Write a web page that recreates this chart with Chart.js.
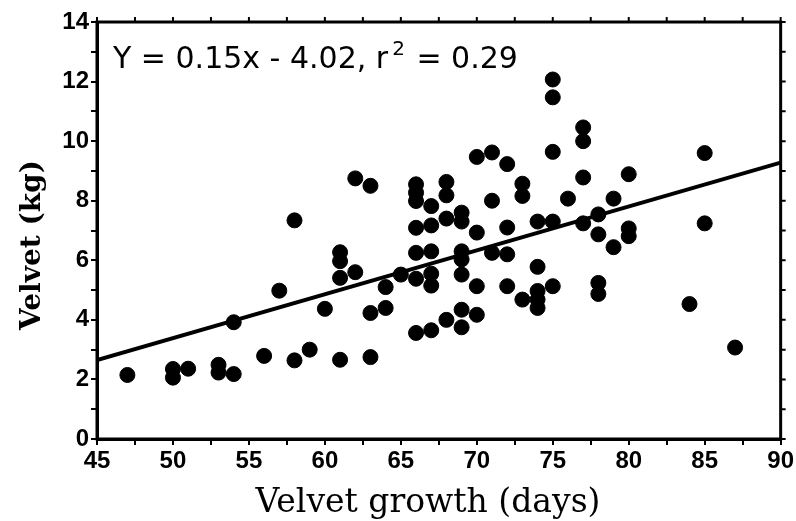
<!DOCTYPE html>
<html>
<head>
<meta charset="utf-8">
<script src="https://cdn.jsdelivr.net/npm/chart.js@4.4.0/dist/chart.umd.min.js"></script>
<style>
  html, body { margin: 0; padding: 0; background: #fff; }
  #wrap { width: 796px; height: 521px; }
</style>
</head>
<body>
<div id="wrap"><canvas id="scatter"></canvas></div>
<script>
// days of velvet growth and velvet weight (kg)
var days = [47, 50, 50, 51, 53, 53, 54, 54, 56, 57, 58, 58, 59, 60,
    61, 61, 61, 61, 62, 62, 63, 63, 63, 64, 64, 65,
    66, 66, 66, 66, 66, 66, 66, 67, 67, 67, 67, 67, 67,
    68, 68, 68, 68, 69, 69, 69, 69, 69, 69, 69,
    70, 70, 70, 70, 71, 71, 71, 72, 72, 72, 72, 73, 73, 73,
    74, 74, 74, 74, 74, 75, 75, 75, 75, 75, 76,
    77, 77, 77, 77, 78, 78, 78, 78, 79, 79, 80, 80, 80, 84, 85, 85, 87];
var velvet = [2.15, 2.35, 2.06, 2.36, 2.49, 2.23, 2.18, 3.92, 2.79, 4.98, 2.64, 7.34, 3.0, 4.37,
    2.66, 5.41, 5.97, 6.27, 8.75, 5.6, 8.5, 4.23, 2.75, 5.1, 4.4, 5.52,
    8.55, 8.27, 7.99, 7.09, 6.25, 5.38, 3.56, 7.82, 7.17, 6.3, 5.55, 5.15, 3.65,
    8.63, 8.18, 7.4, 4.0, 7.6, 7.3, 6.3, 6.03, 5.52, 4.34, 3.75,
    9.47, 6.93, 5.13, 4.17, 9.62, 8.0, 6.25, 9.23, 7.1, 6.2, 5.13, 8.57, 8.16, 4.68,
    7.3, 5.78, 4.97, 4.68, 4.4, 12.07, 11.47, 9.64, 7.3, 5.13, 8.07,
    10.46, 10.0, 8.78, 7.24, 7.54, 6.87, 5.24, 4.87, 8.07, 6.44, 8.89, 7.07, 6.81, 4.53, 9.6, 7.24, 3.07];

// fitted line ends as drawn
var fitX = [45, 90];
var fitY = [2.65, 9.28];

var eqMain = 'Y = 0.15x - 4.02, r';
var eqSup = '2';
var eqTail = ' = 0.29';
var xTitle = 'Velvet growth (days)';
var yTitle = 'Velvet (kg)';

var pts = days.map(function (d, i) { return { x: d, y: velvet[i] }; });
var fitPts = fitX.map(function (d, i) { return { x: d, y: fitY[i] }; });

var framePlugin = {
    id: 'frame',
    afterDraw: function (chart) {
        var c = chart.ctx, a = chart.chartArea;
        var xs = chart.scales.x, ys = chart.scales.y;
        c.save();
        c.strokeStyle = '#000';
        c.lineWidth = 3;
        c.strokeRect(a.left, a.top, a.right - a.left, a.bottom - a.top);
        // ticks on top and right edges
        c.lineWidth = 2;
        c.beginPath();
        xs.ticks.forEach(function (t) {
            var px = xs.getPixelForValue(t.value);
            c.moveTo(px, a.top);
            c.lineTo(px, a.top - 5);
        });
        ys.ticks.forEach(function (t) {
            var py = ys.getPixelForValue(t.value);
            c.moveTo(a.right, py);
            c.lineTo(a.right + 5, py);
        });
        c.stroke();
        // regression equation
        c.fillStyle = '#000';
        c.textBaseline = 'alphabetic';
        c.font = '30px "DejaVu Sans"';
        var x0 = a.left + 16, y0 = 68;
        c.fillText(eqMain, x0, y0);
        var w = c.measureText(eqMain).width;
        c.font = '20px "DejaVu Sans"';
        c.fillText(eqSup, x0 + w + 4, y0 - 13);
        var w2 = c.measureText(eqSup).width;
        c.font = '30px "DejaVu Sans"';
        c.fillText(eqTail, x0 + w + w2 + 6, y0);
        // axis titles
        c.textAlign = 'center';
        c.font = '33px "DejaVu Serif"';
        c.fillText(xTitle, 428, 512);
        c.translate(40, 245);
        c.rotate(-Math.PI / 2);
        c.font = 'bold 28px "DejaVu Serif"';
        c.fillText(yTitle, 0, 0);
        c.restore();
    }
};

var ctx = document.getElementById('scatter').getContext('2d');
var chart = new Chart(ctx, {
    type: 'scatter',
    data: {
        datasets: [{
            label: 'Velvet',
            data: pts,
            backgroundColor: '#000',
            borderColor: '#000',
            pointRadius: 7.5,
            pointHoverRadius: 7.5
        }, {
            label: 'Fit',
            data: fitPts,
            showLine: true,
            borderColor: '#000',
            borderWidth: 4,
            pointRadius: 0
        }]
    },
    options: {
        responsive: true,
        maintainAspectRatio: false,
        animation: false,
        layout: { padding: { top: 22, right: 15, left: 0, bottom: 0 } },
        plugins: { legend: { display: false }, tooltip: { enabled: false } },
        scales: {
            x: {
                type: 'linear',
                min: 45,
                max: 90,
                afterFit: function (s) { s.height = 82; },
                border: { display: true, color: '#000', width: 3 },
                grid: { drawOnChartArea: false, color: '#000', lineWidth: 2, tickLength: 6 },
                ticks: {
                    stepSize: 2.5,
                    autoSkip: false,
                    maxRotation: 0,
                    color: '#000',
                    padding: 2,
                    font: { family: '"Liberation Sans"', size: 24, weight: 'bold' },
                    callback: function (v) { return v % 5 === 0 ? v : ''; }
                }
            },
            y: {
                min: 0,
                max: 14,
                afterFit: function (s) { s.width = 97; },
                border: { display: true, color: '#000', width: 3 },
                grid: { drawOnChartArea: false, color: '#000', lineWidth: 2, tickLength: 6 },
                ticks: {
                    stepSize: 1,
                    autoSkip: false,
                    color: '#000',
                    padding: 2,
                    font: { family: '"Liberation Sans"', size: 24, weight: 'bold' },
                    callback: function (v) { return v % 2 === 0 ? v : ''; }
                }
            }
        }
    },
    plugins: [framePlugin]
});
</script>
</body>
</html>
